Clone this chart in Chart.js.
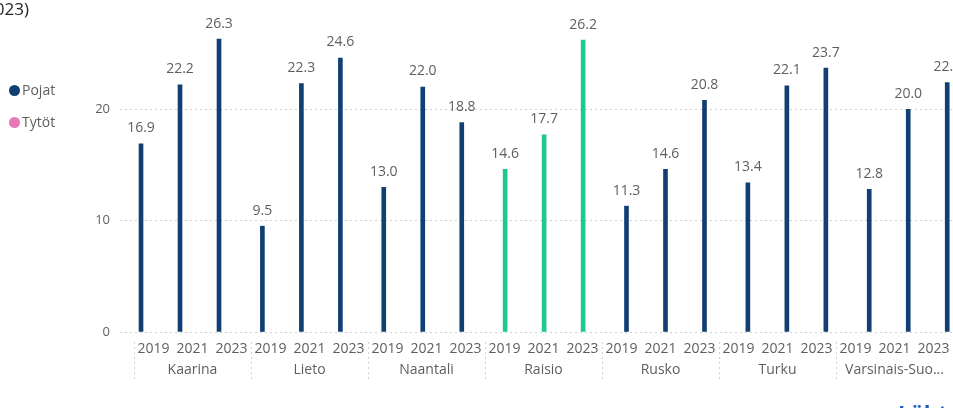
<!DOCTYPE html>
<html>
<head>
<meta charset="utf-8">
<script src="https://cdn.jsdelivr.net/npm/chart.js@4/dist/chart.umd.min.js"></script>
<style>
  html, body { margin: 0; padding: 0; background: #ffffff; }
  body { width: 953px; height: 408px; overflow: hidden; position: relative; font-family: "Open Sans", "Noto Sans", sans-serif; }
  #wrap { position: absolute; left: 0; top: 0; width: 953px; height: 408px; }
  .title { position: absolute; left: -100px; width: 129px; top: -3px; text-align: right; font-size: 17px; color: #252423; white-space: nowrap; }
  .legend { position: absolute; left: 9px; font-size: 14px; color: #605E5C; line-height: 18px; white-space: nowrap; }
  .legend .dot { display: inline-block; width: 11px; height: 11px; border-radius: 50%; vertical-align: -1px; margin-right: 2px; }
  .source { position: absolute; left: 898px; top: 401px; font-size: 22px; line-height: 22px; font-weight: 700; color: #1F5FBF; white-space: nowrap; }
</style>
</head>
<body>
<div id="wrap"><canvas id="c" width="953" height="408"></canvas></div>
<div class="title">2023)</div>
<div class="legend" style="top:81px"><span class="dot" style="background:#123F72"></span>Pojat</div>
<div class="legend" style="top:113px"><span class="dot" style="background:#E878B8"></span>Tytöt</div>
<div class="source">Lähteet</div>
<script>
// ---- data ----
const municipalities = ['Kaarina', 'Lieto', 'Naantali', 'Raisio', 'Rusko', 'Turku', 'Varsinais-Suo...'];
const years = ['2019', '2021', '2023'];
const pojat = [
  16.9, 22.2, 26.3,
  9.5, 22.3, 24.6,
  13.0, 22.0, 18.8,
  14.6, 17.7, 26.2,
  11.3, 14.6, 20.8,
  13.4, 22.1, 23.7,
  12.8, 20.0, 22.4
];
const tytot = new Array(pojat.length).fill(null);
const yTicks = [0, 10, 20];
const highlighted = 'Raisio';

// ---- layout constants ----
const NAVY = '#123F72';
const GREEN = '#1DC98B';
const TEXT = '#605E5C';
const GROUP_PERIOD = 3.112;   // bars drift slightly from uniform labels
const BAR_START = -0.32;

const nYears = years.length;
const barPoints = pojat.map((v, k) => {
  const g = Math.floor(k / nYears), i = k % nYears;
  return { x: g * GROUP_PERIOD + i + BAR_START, y: v };
});
const barColors = pojat.map((v, k) => municipalities[Math.floor(k / nYears)] === highlighted ? GREEN : NAVY);
const tickLabels = [];
municipalities.forEach((m, g) => years.forEach((y, i) => {
  tickLabels.push(i === 1 ? [y, m] : y);
}));

const valueLabels = {
  id: 'valueLabels',
  afterDatasetsDraw(chart) {
    const ctx = chart.ctx;
    const meta = chart.getDatasetMeta(0);
    ctx.save();
    ctx.font = '14px "Open Sans", "Noto Sans", sans-serif';
    ctx.fillStyle = TEXT;
    ctx.textAlign = 'center';
    ctx.textBaseline = 'middle';
    meta.data.forEach((bar, k) => {
      const v = pojat[k];
      if (v == null) return;
      ctx.fillText(v.toFixed(1), bar.x, bar.y - 15.5);
    });
    ctx.restore();
  }
};

const separators = {
  id: 'separators',
  afterDraw(chart) {
    const xs = chart.scales.x;
    const ctx = chart.ctx;
    const top = chart.chartArea.bottom + 10;
    const bottom = chart.chartArea.bottom + 48;
    ctx.save();
    ctx.strokeStyle = '#D2D2D2';
    ctx.lineWidth = 1;
    ctx.setLineDash([2, 3]);
    for (let g = 0; g <= municipalities.length; g++) {
      const px = Math.round(xs.getPixelForValue(g * nYears - 0.5)) + 0.5;
      if (px > chart.width) continue;
      ctx.beginPath();
      ctx.moveTo(px, top);
      ctx.lineTo(px, bottom);
      ctx.stroke();
    }
    ctx.restore();
  }
};

new Chart(document.getElementById('c'), {
  type: 'bar',
  data: {
    datasets: [
      { label: 'Pojat', data: barPoints, backgroundColor: barColors, barThickness: 4, borderWidth: 0 },
    ]
  },
  options: {
    responsive: false,
    devicePixelRatio: 1,
    animation: false,
    layout: { padding: { top: 9, left: 0, right: 0, bottom: 0 } },
    plugins: { legend: { display: false }, tooltip: { enabled: false } },
    scales: {
      x: {
        type: 'linear',
        offset: false,
        min: -0.859,
        max: 20.5,
        grid: { display: false, drawTicks: false, offset: false },
        border: { display: false },
        afterBuildTicks(scale) {
          scale.ticks = tickLabels.map((l, k) => ({ value: k }));
        },
        afterFit(scale) { scale.height = 76; scale.paddingLeft = 0; scale.paddingRight = 0; },
        ticks: {
          autoSkip: false,
          maxRotation: 0,
          minRotation: 0,
          padding: 7,
          color: TEXT,
          font: { family: '"Open Sans", "Noto Sans", sans-serif', size: 14, lineHeight: 1.5 },
          callback: (value) => tickLabels[Math.round(value)]
        }
      },
      y: {
        min: 0,
        max: 29,
        afterBuildTicks(scale) { scale.ticks = yTicks.map(v => ({ value: v })); },
        afterFit(scale) { scale.width = 120; scale.paddingTop = 0; scale.paddingBottom = 0; },
        grid: { color: '#CFCFCF', lineWidth: 1, drawTicks: false },
        border: { display: false, dash: [2, 3] },
        ticks: {
          padding: 10,
          color: TEXT,
          font: { family: '"Open Sans", "Noto Sans", sans-serif', size: 13 }
        }
      }
    }
  },
  plugins: [valueLabels, separators]
});
</script>
</body>
</html>
